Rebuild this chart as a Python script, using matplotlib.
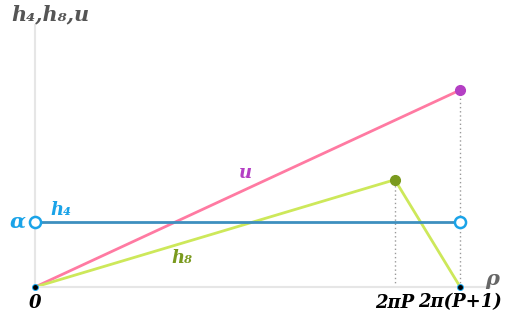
import numpy as np
import matplotlib.pyplot as plt

P = 5.5
alpha = 1.0
rho = [0, 2 * np.pi * P, 2 * np.pi * (P + 1)]
h4 = [alpha, alpha, alpha]
h8 = [0, 1.65, 0]
u = [0, 3.03 * (2 * np.pi * P) / (2 * np.pi * (P + 1)), 3.03]
tick_labels = ["0", "2πP", "2π(P+1)"]

fig = plt.figure(figsize=(5.05, 3.2), dpi=100)
ax = fig.add_axes([0.0693, 0.103, 0.901, 0.819])
ax.set_xlim(0, 43.7)
ax.set_ylim(0, 4.03)

for s in ["top", "right"]:
    ax.spines[s].set_visible(False)
for s in ["left", "bottom"]:
    ax.spines[s].set_color("#e6e6e6")
    ax.spines[s].set_linewidth(1.5)
ax.set_yticks([])
ax.set_xticks([])

font = dict(family="DejaVu Serif", style="italic", fontweight="bold")

# dotted guides
ax.plot([rho[1], rho[1]], [0, h8[1]], ls=(0, (1, 2)), color="#999999", lw=1, zorder=1)
ax.plot([rho[2], rho[2]], [0, u[2]], ls=(0, (1, 2)), color="#999999", lw=1, zorder=1)

ax.plot([rho[0], rho[2]], [u[0], u[2]], color="#ff7aa2", lw=2, zorder=2)
ax.plot(rho, h8, color="#cde85a", lw=2, zorder=2)
ax.plot([rho[0], rho[2]], [h4[0], h4[2]], color="#3d8fbf", lw=2, zorder=3)

ax.plot(rho[2], u[2], "o", color="#b43fc4", ms=7, zorder=4, clip_on=False)
ax.plot(rho[1], h8[1], "o", color="#7a9a1e", ms=7, zorder=4)
ax.plot([rho[0], rho[2]], [h4[0], h4[2]], "o", mfc="white", mec="#1aa3e8",
        mew=1.8, ms=8, ls="none", zorder=5, clip_on=False)
ax.plot([rho[0], rho[2]], [0, 0], "o", color="#1aa3e8", ms=4, zorder=5, clip_on=False)
ax.plot([rho[0], rho[2]], [0, 0], "o", color="black", ms=2.5, zorder=6, clip_on=False)

# tick labels
for x, t in zip(rho, tick_labels):
    ax.text(x, -0.1, t, ha="center", va="top", fontsize=13, color="black",
            clip_on=False, **font)

ax.text(-0.9, alpha, "α", ha="right", va="center", fontsize=15, color="#1aa3e8",
        clip_on=False, **font)
ax.text(1.5, 1.18, "h₄", ha="left", va="center", fontsize=13, color="#1aa3e8", **font)
ax.text(20.2, 1.75, "u", ha="center", va="center", fontsize=13, color="#b43fc4", **font)
ax.text(14.1, 0.45, "h₈", ha="center", va="center", fontsize=13, color="#7a9a1e", **font)

ax.text(-2.3, 4.2, "h₄,h₈,u", ha="left", va="center", fontsize=15, color="#555555",
        clip_on=False, **font)
ax.text(43.2, 0.12, "ρ", ha="left", va="center", fontsize=15, color="#666666",
        clip_on=False, **font)

fig.savefig("out.png", dpi=100)
